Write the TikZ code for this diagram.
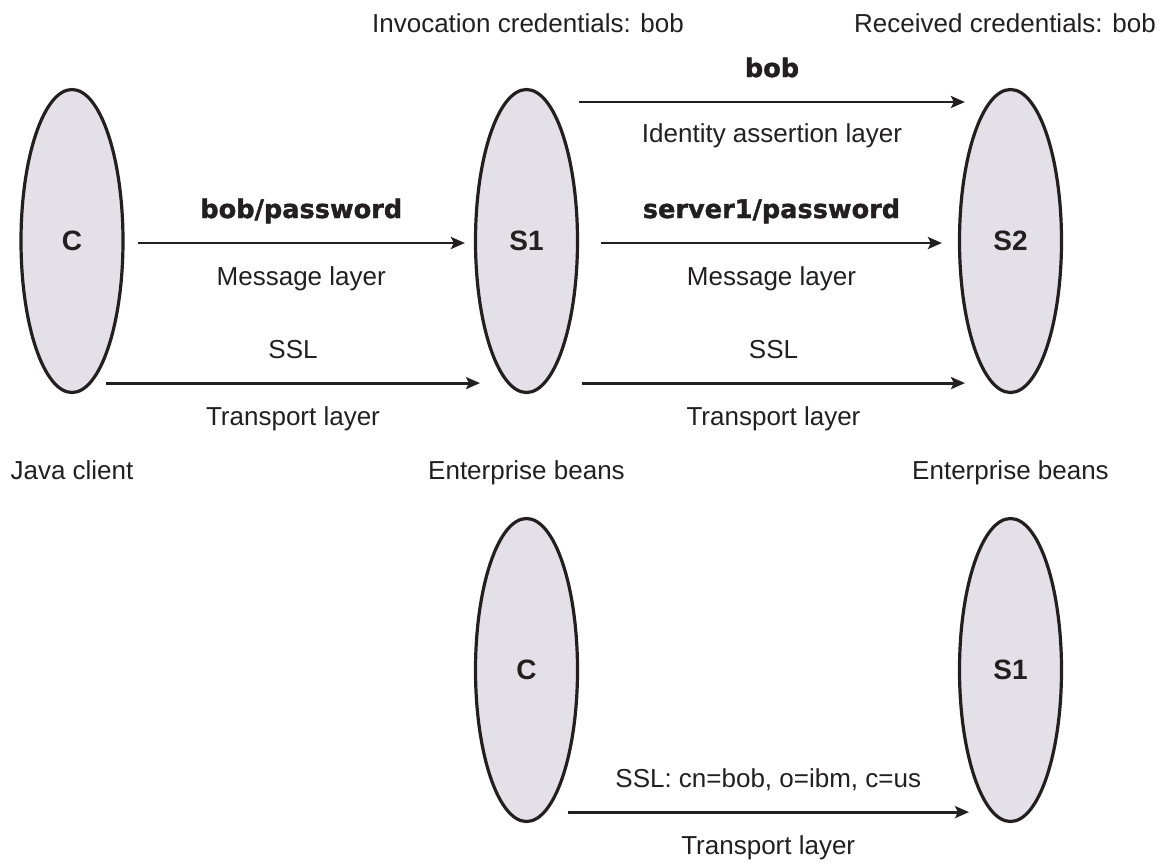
\documentclass[tikz,border=0pt]{standalone}
\usepackage{fontspec}
\setmainfont{Liberation Sans}
\newfontfamily\heavyfont{DejaVu Sans}[BoldFeatures={FakeBold=1.5}]
\usepackage{xcolor}
\definecolor{credInk}{HTML}{231F20}
\definecolor{credFill}{HTML}{E4E0E8}
\usetikzlibrary{shapes.geometric,arrows.meta,positioning,calc}
\tikzset{
    party/.style={
        draw=credInk,
        fill=credFill,
        ellipse,
        line width=1.6pt,
        inner sep=0pt,
        minimum width=51pt,
        minimum height=151.5pt,
        text=credInk,
        font=\fontsize{14}{16}\selectfont\bfseries
    },
    arrow/.style={
        -{Stealth[length=7pt,width=6pt,inset=1.5pt]},
        line width=1.4pt,
        color=credInk
    },
    caption/.style={
        anchor=base,
        inner sep=0pt,
        text=credInk,
        font=\fontsize{13}{15}\selectfont
    },
    toplbl/.style={
        midway,
        anchor=base,
        yshift=12.5pt,
        inner sep=0pt,
        text=credInk,
        font=\fontsize{13}{15}\selectfont
    },
    boldlbl/.style={
        toplbl,
        font=\fontsize{12.8}{15}\heavyfont\bfseries
    },
    botlbl/.style={
        midway,
        anchor=base,
        yshift=-21pt,
        inner sep=0pt,
        text=credInk,
        font=\fontsize{13}{15}\selectfont
    }
}

\begin{document}
\begin{tikzpicture}[x=0.5pt,y=-0.5pt]
    \useasboundingbox (0,0) rectangle (1167,863);

    % Headings
    \node[caption] (invoc) at (528,32) {Invocation credentials: bob};
    \node[caption] (recv) at (1005,32) {Received credentials: bob};

    % Upper chain
    \node[party] (c) at (72,241) {C};
    \node[party] (s1) at (526.5,241) {S1};
    \node[party] (s2) at (1010.5,241) {S2};

    % Captions
    \node[caption] (javacl) at (72,479) {Java client};
    \node[caption] (ejb1) at (526.5,479) {Enterprise beans};
    \node[caption] (ejb2) at (1010.5,479) {Enterprise beans};

    % Client to S1
    \draw[arrow] ([shift={(13,2)}]c.east) -- ([shift={(-9,2)}]s1.west)
        node[boldlbl] {bob/password}
        node[botlbl] {Message layer};
    \draw[arrow] ([shift={(34,-11)}]c.south) -- ([shift={(-46.5,-11)}]s1.south)
        node[toplbl] {SSL}
        node[botlbl] {Transport layer};

    % S1 to S2
    \draw[arrow] ([shift={(0,-139)}]s1.east) -- ([shift={(7,-139)}]s2.west)
        node[boldlbl] {bob}
        node[botlbl, yshift=1pt] {Identity assertion layer};
    \draw[arrow] ([shift={(22,2)}]s1.east) -- ([shift={(-16,2)}]s2.west)
        node[boldlbl] {server1/password}
        node[botlbl] {Message layer};
    \draw[arrow] ([shift={(55.5,-11)}]s1.south) -- ([shift={(-45.5,-11)}]s2.south)
        node[toplbl] {SSL}
        node[botlbl] {Transport layer};

    % Lower chain
    \node[party] (cb) at (526.5,670) {C};
    \node[party] (sb) at (1010.5,670) {S1};
    \draw[arrow] ([shift={(41,-11)}]cb.south) -- ([shift={(-41.5,-11)}]sb.south)
        node[toplbl] {SSL: cn=bob, o=ibm, c=us}
        node[botlbl] {Transport layer};
\end{tikzpicture}
\end{document}
